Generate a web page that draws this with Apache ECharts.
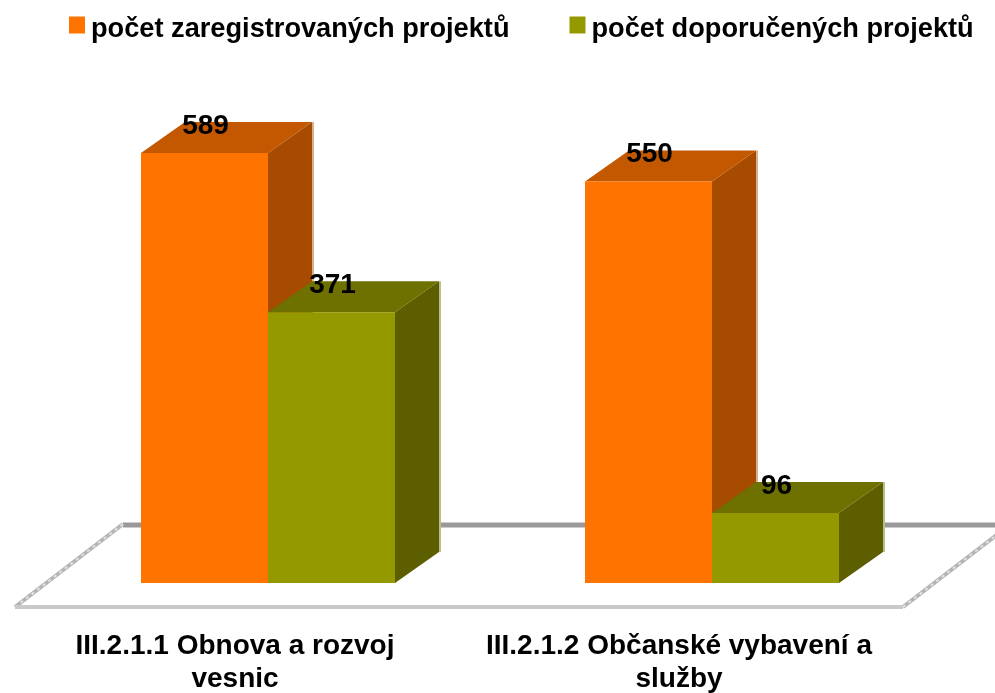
<!DOCTYPE html>
<html>
<head>
<meta charset="utf-8">
<style>
  html, body { margin: 0; padding: 0; background: #fff; }
  #chart { width: 995px; height: 693px; }
</style>
</head>
<body>
<div id="chart"></div>
<script src="https://cdn.jsdelivr.net/npm/echarts@6/dist/echarts.min.js"></script>
<script>
const categories = ['III.2.1.1 Obnova a rozvoj\nvesnic', 'III.2.1.2 Občanské vybavení a\nslužby']
const registered = [589, 550]
const recommended = [371, 96]
const seriesNames = ['počet zaregistrovaných projektů', 'počet doporučených projektů']

const FONT = '"Liberation Sans", Arial, sans-serif'
const ORANGE = { front: '#ff7400', top: '#c45800', side: '#a64b00', rim: '#d9b08f' }
const OLIVE = { front: '#949900', top: '#6e7000', side: '#5c5e00', rim: '#bcbd8f' }

// fake 3D: the bars stand inside the floor, depth goes up and to the right
const SHIFT_X = 33
const SHIFT_Y = 24
const DEPTH_X = 44
const DEPTH_Y = 31
const BAR_WIDTH = 127

function poly(points, fill) {
  return { type: 'polygon', shape: { points }, style: { fill }, silent: true }
}

function barRenderer(colors, side) {
  return function (params, api) {
    const top = api.coord([api.value(0), api.value(1)])
    const base = api.coord([api.value(0), 0])
    const x0 = top[0] + SHIFT_X + (side < 0 ? -BAR_WIDTH : 0)
    const x1 = x0 + BAR_WIDTH
    const yT = top[1] - SHIFT_Y
    const yB = base[1] - SHIFT_Y
    return {
      type: 'group',
      children: [
        poly([[x1 + DEPTH_X, yT - DEPTH_Y], [x1 + DEPTH_X + 2, yT - DEPTH_Y], [x1 + DEPTH_X + 2, yB - DEPTH_Y], [x1 + DEPTH_X, yB - DEPTH_Y]], colors.rim),
        poly([[x1, yT], [x1 + DEPTH_X, yT - DEPTH_Y], [x1 + DEPTH_X, yB - DEPTH_Y], [x1, yB]], colors.side),
        poly([[x0, yT], [x0 + DEPTH_X, yT - DEPTH_Y], [x1 + DEPTH_X, yT - DEPTH_Y], [x1, yT]], colors.top),
        poly([[x0, yT], [x1, yT], [x1, yB], [x0, yB]], colors.front),
        {
          type: 'text',
          silent: true,
          style: {
            x: (x0 + x1) / 2 + 1,
            y: yT - 27,
            text: String(api.value(1)),
            fill: '#000',
            font: 'bold 28px ' + FONT,
            align: 'center',
            verticalAlign: 'middle'
          }
        }
      ]
    }
  }
}

function floorRenderer(params) {
  const c = params.coordSys
  const left = c.x + 2
  const right = c.x + c.width + 2
  const front = c.y + c.height
  const back = front - 83
  const leftEdge = { x1: left, y1: front, x2: left + 108, y2: back }
  const rightEdge = { x1: right, y1: front, x2: right + 108, y2: back }
  const line = (shape, stroke, lineWidth, lineDash) => ({
    type: 'line', shape, silent: true, style: { stroke, lineWidth, lineDash }
  })
  return {
    type: 'group',
    children: [
      line({ x1: left + 108, y1: back + 1, x2: right + 108, y2: back + 1 }, '#999999', 5),
      line(leftEdge, '#b4b4b4', 4),
      line(leftEdge, '#e2e2e2', 2, [3, 4]),
      line(rightEdge, '#b4b4b4', 4),
      line(rightEdge, '#e2e2e2', 2, [3, 4]),
      line({ x1: left, y1: front, x2: right, y2: front }, '#c9c9c9', 4)
    ]
  }
}

const chart = echarts.init(document.getElementById('chart'), null, { renderer: 'canvas' })

chart.setOption({
  animation: false,
  backgroundColor: '#fff',
  legend: {
    data: seriesNames,
    top: 16,
    left: 69,
    padding: 0,
    icon: 'rect',
    itemWidth: 16,
    itemHeight: 17,
    itemGap: 60,
    selectedMode: false,
    formatter: '{t|{name}}',
    textStyle: {
      rich: {
        // pushes the text below the marker's centre, as in the source picture
        t: { fontFamily: FONT, fontWeight: 'bold', fontSize: 27.2, color: '#000', padding: [9, 0, 0, 1] }
      }
    }
  },
  grid: { left: 13, width: 888, top: 23, bottom: 86, outerBoundsMode: 'none' },
  xAxis: {
    type: 'category',
    data: categories,
    axisLine: { show: false },
    axisTick: { show: false },
    axisLabel: {
      interval: 0,
      margin: 23,
      fontFamily: FONT,
      fontWeight: 'bold',
      fontSize: 28,
      lineHeight: 33,
      color: '#000'
    }
  },
  yAxis: { type: 'value', min: 0, max: 800, show: false },
  series: [
    {
      type: 'custom',
      name: 'floor',
      silent: true,
      data: [[0, 0]],
      clip: false,
      z: 1,
      renderItem: floorRenderer
    },
    {
      type: 'custom',
      name: seriesNames[0],
      data: registered.map((v, i) => [i, v]),
      encode: { x: 0, y: 1 },
      itemStyle: { color: ORANGE.front },
      clip: false,
      z: 2,
      renderItem: barRenderer(ORANGE, -1)
    },
    {
      type: 'custom',
      name: seriesNames[1],
      data: recommended.map((v, i) => [i, v]),
      encode: { x: 0, y: 1 },
      itemStyle: { color: OLIVE.front },
      clip: false,
      z: 3,
      renderItem: barRenderer(OLIVE, 1)
    }
  ]
})
</script>
</body>
</html>
